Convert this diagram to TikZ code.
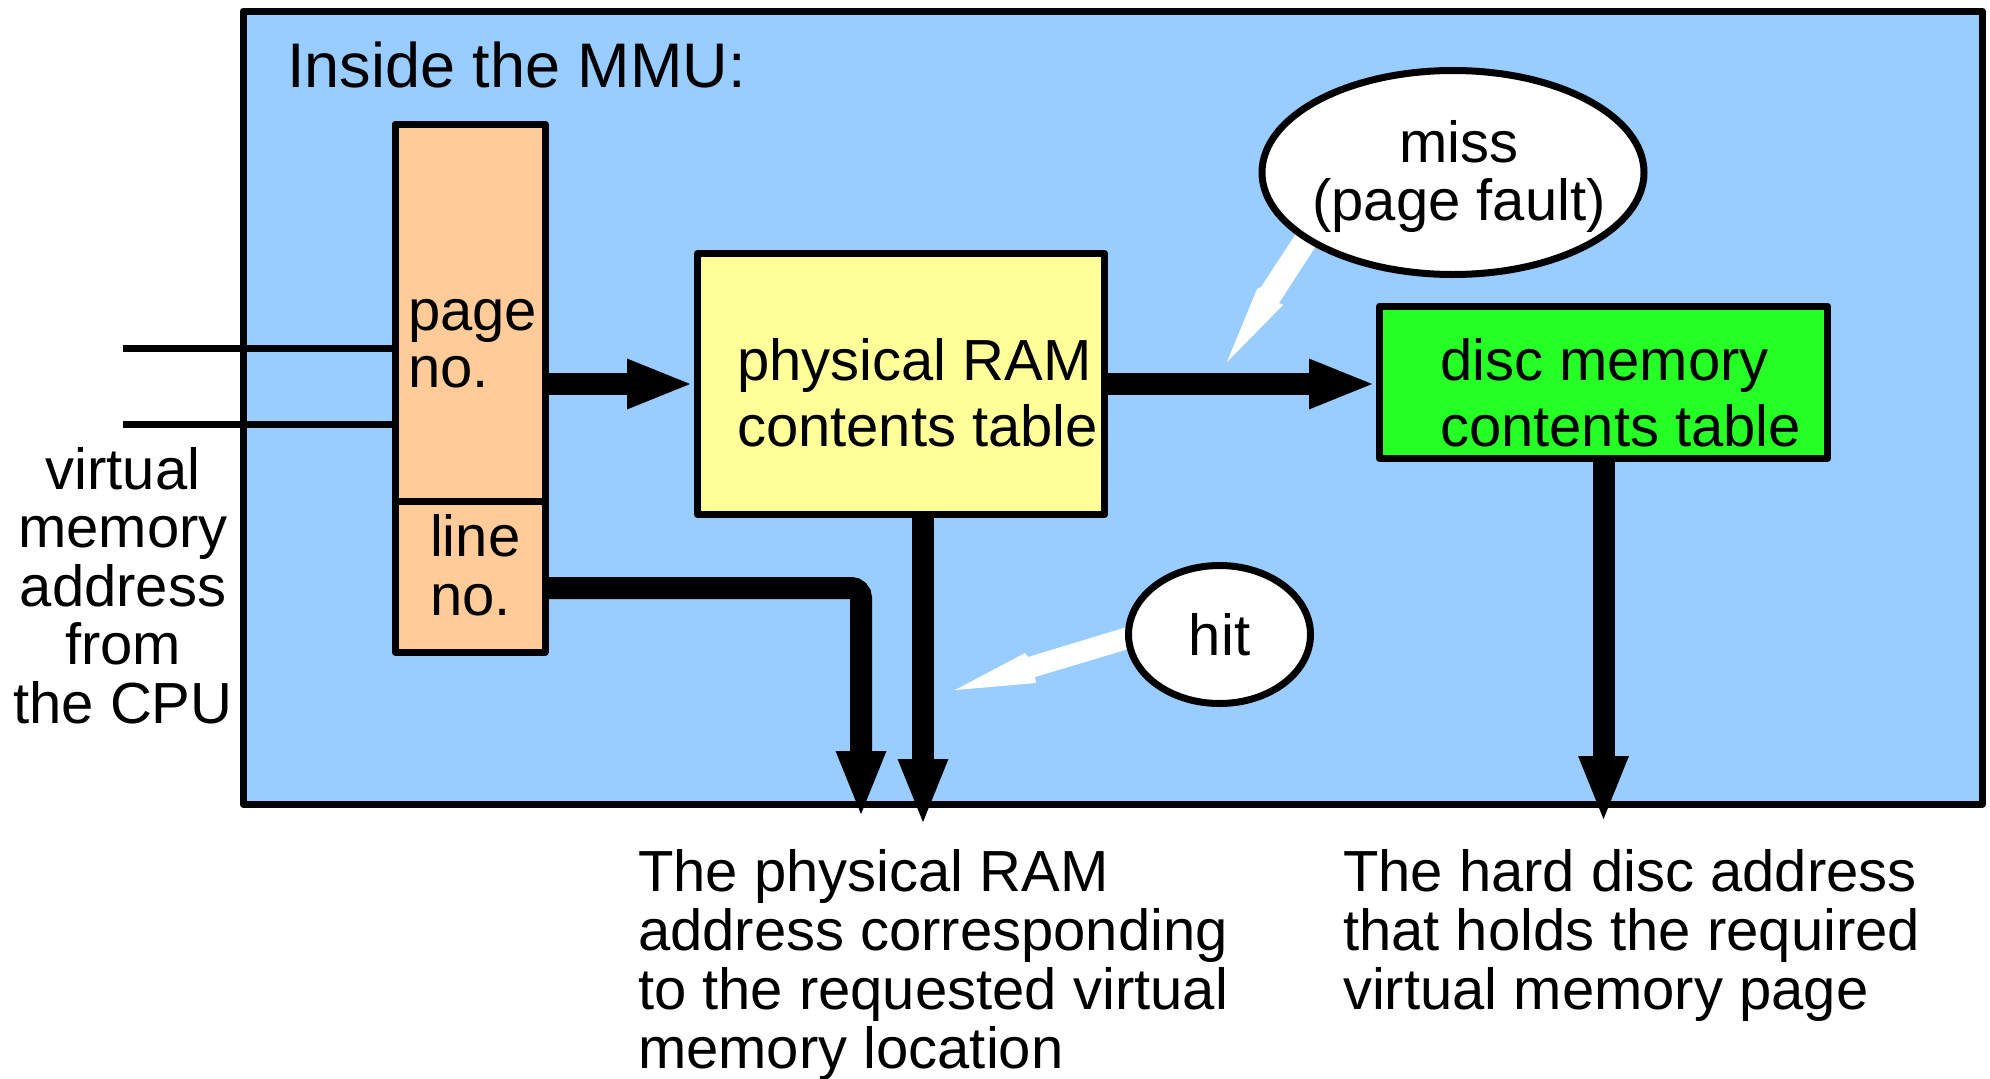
\documentclass[tikz,border=0pt]{standalone}
\usepackage{fontspec}
\setmainfont{Liberation Sans}
\usetikzlibrary{arrows.meta,shapes.geometric}
\definecolor{mmublue}{HTML}{99CCFF}
\definecolor{peach}{HTML}{FFCC99}
\definecolor{ramyellow}{HTML}{FFFF99}
\definecolor{discgreen}{HTML}{26FF26}
\begin{document}
\begin{tikzpicture}[x=1pt,y=-1pt,
  box/.style={draw, line width=7pt, line join=round, inner sep=0pt},
  txt/.style={inner sep=0pt, outer sep=0pt, align=left},
  bigarrow/.style={line width=22pt, -{Triangle[length=67pt,width=45pt]}},
  thinline/.style={line width=7pt},
  bubble/.style={ellipse, draw, fill=white, line width=7pt, inner sep=0pt, align=center},
  body/.style={font=\fontsize{58}{#1}\selectfont},
]
\useasboundingbox (0,0) rectangle (1990,1079);
% outer MMU box
\node[box, fill=mmublue, minimum width=1739pt, minimum height=793.5pt] (mmu) at (1112.5,407.75) {};
\node[txt, anchor=base west, font=\fontsize{63}{66}\selectfont] (title) at (287,87.5) {Inside the MMU:};
% address register
\node[box, fill=peach, minimum width=150pt, minimum height=377pt] (page) at (470,312.5) {};
\node[box, fill=peach, minimum width=150pt, minimum height=151pt] (line) at (470,576.5) {};
\node[txt, anchor=base west, body=57.5] (pagetxt) at (408,387.5) {page\\no.};
\node[txt, anchor=base west, body=59] (linetxt) at (430,615) {line\\no.};
% input lines
\coordinate (in1) at (123,348);
\coordinate (in2) at (123,424);
\draw[thinline] (in1) -- (in1 -| page.west);
\draw[thinline] (in2) -- (in2 -| page.west);
\node[txt, align=center, anchor=base, body=58.5] (cpu) at (123,723) {virtual\\memory\\address\\from\\the CPU};
% tables
\node[box, fill=ramyellow, minimum width=407pt, minimum height=261pt] (ram) at (901,384) {};
\node[txt, anchor=base west, body=66] (ramtxt) at (737,446) {physical RAM\\contents table};
\node[box, fill=discgreen, minimum width=448pt, minimum height=152.5pt] (disc) at (1603.5,382.25) {};
\node[txt, anchor=base west, body=66] (disctxt) at (1440,446) {disc memory\\contents table};
% arrows
\draw[bigarrow] (page.east |- ram.west) -- (ram.west);
\draw[bigarrow] (ram.east) -- (ram.east -| disc.west);
\coordinate (ramout) at (923,826);
\draw[bigarrow] (ramout |- ram.south) -- (ramout);
\coordinate (lnturn) at (861,588);
\coordinate (lnout) at (861,818);
\draw[bigarrow, rounded corners=10pt] (line.east |- lnturn) -- (lnturn) -- (lnout);
\coordinate (discout) at (1603.5,823);
\draw[bigarrow] (disc.south) -- (discout);
% callout tails
\fill[white] (1305,220) -- (1261,287) -- (1257,289) -- (1227,362) -- (1283,305) -- (1279,303) -- (1325,232) -- cycle;
\fill[white] (1140,623) -- (1028,657) -- (1025,653) -- (955,690) -- (1036,683) -- (1035,677) -- (1142,645) -- cycle;
% bubbles
\node[bubble, minimum width=382pt, minimum height=204pt] (miss) at (1453,172.5) {};
\node[txt, align=center, anchor=base, body=58] (misstxt) at (1459,220) {miss\\(page fault)};
\node[bubble, minimum width=182pt, minimum height=138pt, body=58] (hit) at (1219.5,634.5) {hit};
% outputs
\node[txt, anchor=base west, body=59] (physaddr) at (638,1068) {The physical RAM\\address corresponding\\to the requested virtual\\memory location};
\node[txt, anchor=base west, body=59] (discaddr) at (1343,1009) {The hard disc address\\that holds the required\\virtual memory page};
\end{tikzpicture}
\end{document}
